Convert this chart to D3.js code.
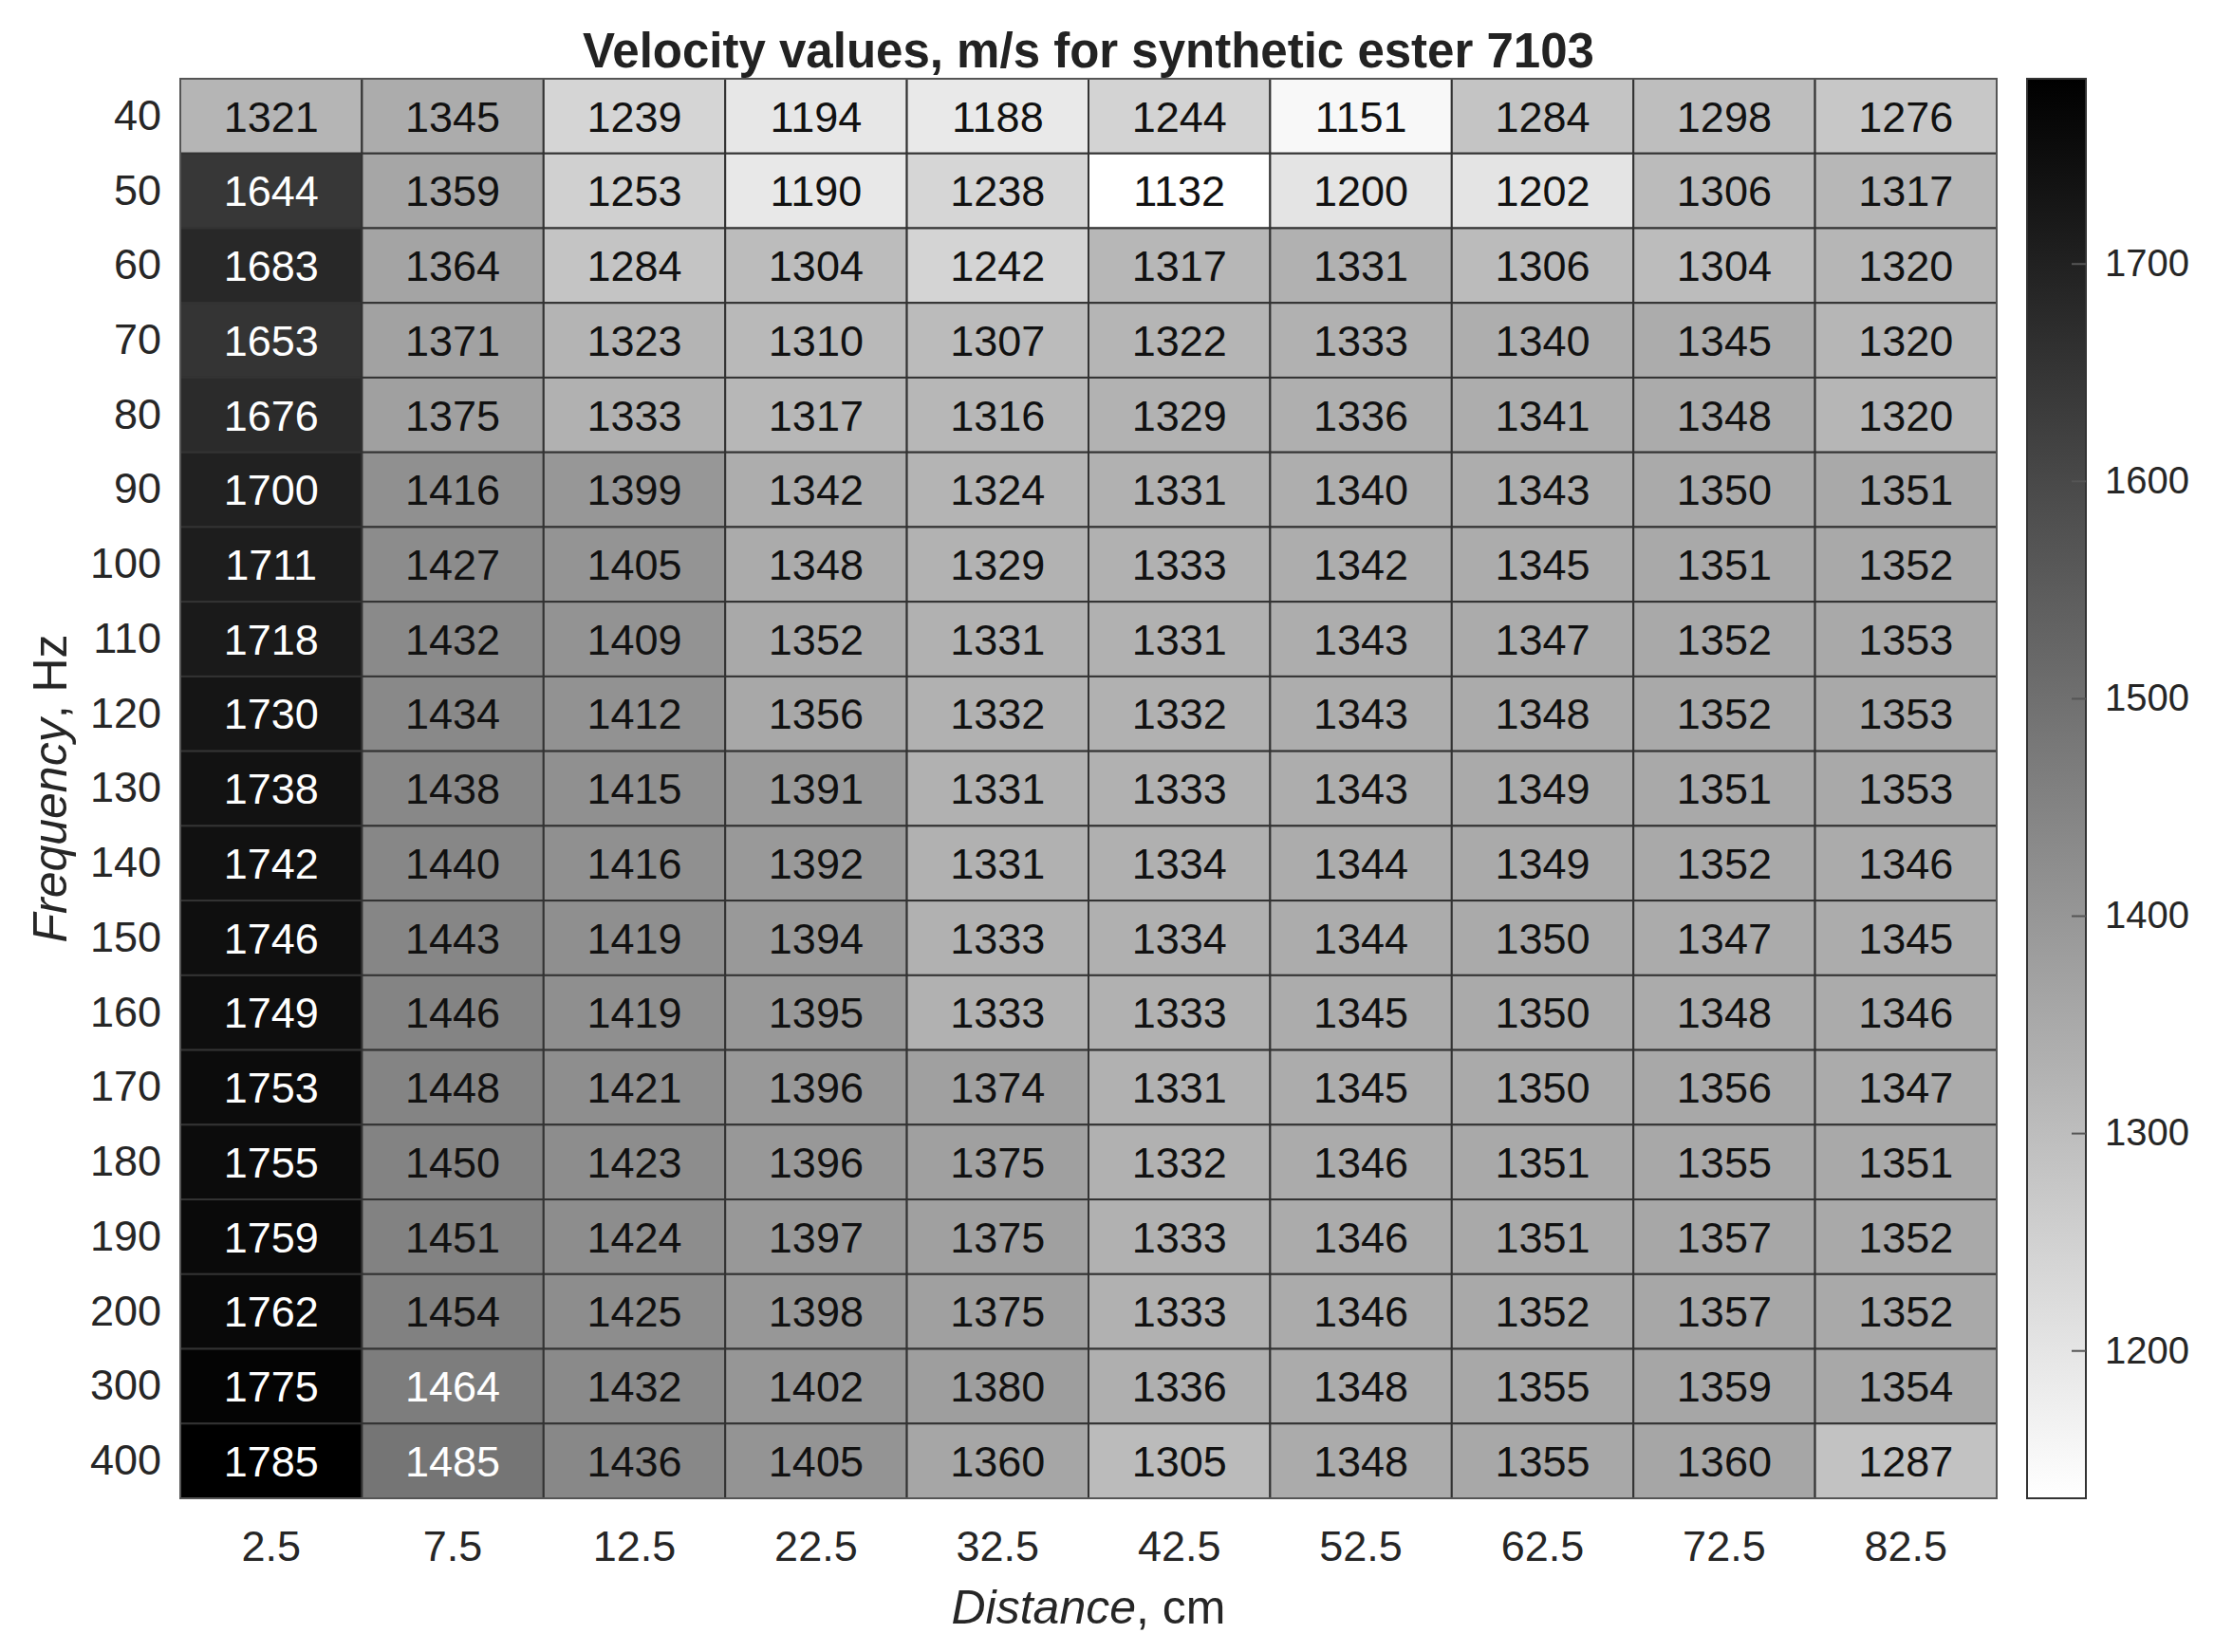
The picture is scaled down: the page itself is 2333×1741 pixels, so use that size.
<!DOCTYPE html>
<html>
<head>
<meta charset="utf-8">
<script src="https://cdn.jsdelivr.net/npm/d3@7"></script>
<style>
  body { margin: 0; background: #fff; }
  text { font-family: "Liberation Sans", Arial, sans-serif; }
</style>
</head>
<body>
<div id="chart"></div>
<script>
// heatmap data
var distances = ["2.5", "7.5", "12.5", "22.5", "32.5", "42.5", "52.5", "62.5", "72.5", "82.5"];
var frequencies = ["40", "50", "60", "70", "80", "90", "100", "110", "120", "130",
                   "140", "150", "160", "170", "180", "190", "200", "300", "400"];
// one row per frequency, one value per distance
var velocity = [
  [1321, 1345, 1239, 1194, 1188, 1244, 1151, 1284, 1298, 1276],
  [1644, 1359, 1253, 1190, 1238, 1132, 1200, 1202, 1306, 1317],
  [1683, 1364, 1284, 1304, 1242, 1317, 1331, 1306, 1304, 1320],
  [1653, 1371, 1323, 1310, 1307, 1322, 1333, 1340, 1345, 1320],
  [1676, 1375, 1333, 1317, 1316, 1329, 1336, 1341, 1348, 1320],
  [1700, 1416, 1399, 1342, 1324, 1331, 1340, 1343, 1350, 1351],
  [1711, 1427, 1405, 1348, 1329, 1333, 1342, 1345, 1351, 1352],
  [1718, 1432, 1409, 1352, 1331, 1331, 1343, 1347, 1352, 1353],
  [1730, 1434, 1412, 1356, 1332, 1332, 1343, 1348, 1352, 1353],
  [1738, 1438, 1415, 1391, 1331, 1333, 1343, 1349, 1351, 1353],
  [1742, 1440, 1416, 1392, 1331, 1334, 1344, 1349, 1352, 1346],
  [1746, 1443, 1419, 1394, 1333, 1334, 1344, 1350, 1347, 1345],
  [1749, 1446, 1419, 1395, 1333, 1333, 1345, 1350, 1348, 1346],
  [1753, 1448, 1421, 1396, 1374, 1331, 1345, 1350, 1356, 1347],
  [1755, 1450, 1423, 1396, 1375, 1332, 1346, 1351, 1355, 1351],
  [1759, 1451, 1424, 1397, 1375, 1333, 1346, 1351, 1357, 1352],
  [1762, 1454, 1425, 1398, 1375, 1333, 1346, 1352, 1357, 1352],
  [1775, 1464, 1432, 1402, 1380, 1336, 1348, 1355, 1359, 1354],
  [1785, 1485, 1436, 1405, 1360, 1305, 1348, 1355, 1360, 1287]
];
var colorbarTicks = [1200, 1300, 1400, 1500, 1600, 1700];

var svgWidth = 2333, svgHeight = 1741;
var margin = { top: 83, left: 190 };
var chartWidth = 1914, chartHeight = 1496;

var svg = d3.select("#chart").append("svg")
  .attr("width", svgWidth)
  .attr("height", svgHeight);

var chartGroup = svg.append("g")
  .attr("transform", `translate(${margin.left}, ${margin.top})`);

// flatten to cells
var cells = [];
velocity.forEach(function (row, i) {
  row.forEach(function (v, j) {
    cells.push({ freq: frequencies[i], dist: distances[j], value: v });
  });
});

var vMin = d3.min(cells, d => d.value);
var vMax = d3.max(cells, d => d.value);

var xScale = d3.scaleBand().domain(distances).range([0, chartWidth]);
var yScale = d3.scaleBand().domain(frequencies).range([0, chartHeight]);

// flipped gray colormap: white at min, black at max
var grayScale = d3.scaleLinear().domain([vMin, vMax]).range([1, 0]);
function cellColor(v) {
  var g = Math.round(grayScale(v) * 255);
  return d3.rgb(g, g, g);
}

chartGroup.selectAll("rect.cell")
  .data(cells)
  .enter()
  .append("rect")
  .attr("class", "cell")
  .attr("x", d => xScale(d.dist))
  .attr("y", d => yScale(d.freq))
  .attr("width", xScale.bandwidth())
  .attr("height", yScale.bandwidth())
  .attr("fill", d => cellColor(d.value))
  .attr("stroke", "#333")
  .attr("stroke-width", 2);

chartGroup.selectAll("text.cellLabel")
  .data(cells)
  .enter()
  .append("text")
  .attr("class", "cellLabel")
  .attr("x", d => xScale(d.dist) + xScale.bandwidth() / 2)
  .attr("y", d => yScale(d.freq) + yScale.bandwidth() / 2)
  .attr("dy", "0.36em")
  .attr("text-anchor", "middle")
  .attr("font-size", "45px")
  .attr("fill", d => grayScale(d.value) < 0.5 ? "#fff" : "#111")
  .text(d => d.value);

// outer frame
chartGroup.append("rect")
  .attr("width", chartWidth)
  .attr("height", chartHeight)
  .attr("fill", "none")
  .attr("stroke", "#555")
  .attr("stroke-width", 2);

// axes (no tick marks, like matlab heatmap)
var leftAxis = d3.axisLeft(yScale).tickSize(0).tickPadding(20);
var bottomAxis = d3.axisBottom(xScale).tickSize(0).tickPadding(34);

var yAxis = chartGroup.append("g").call(leftAxis);
yAxis.select(".domain").remove();
yAxis.selectAll("text")
  .attr("font-size", "45px")
  .attr("font-family", "Liberation Sans, Arial, sans-serif")
  .attr("fill", "#262626");

var xAxis = chartGroup.append("g")
  .attr("transform", `translate(0, ${chartHeight})`)
  .call(bottomAxis);
xAxis.select(".domain").remove();
xAxis.selectAll("text")
  .attr("font-size", "45px")
  .attr("font-family", "Liberation Sans, Arial, sans-serif")
  .attr("fill", "#262626");

// title
svg.append("text")
  .attr("x", margin.left + chartWidth / 2)
  .attr("y", 71)
  .attr("text-anchor", "middle")
  .attr("font-size", "51px")
  .attr("font-weight", "bold")
  .attr("fill", "#222")
  .text("Velocity values, m/s for synthetic ester 7103");

// x label
var xLabel = svg.append("text")
  .attr("x", margin.left + chartWidth / 2)
  .attr("y", 1711)
  .attr("text-anchor", "middle")
  .attr("font-size", "50px")
  .attr("fill", "#262626");
xLabel.append("tspan").attr("font-style", "italic").text("Distance");
xLabel.append("tspan").text(", cm");

// y label
var yLabel = svg.append("text")
  .attr("transform", `translate(70, ${margin.top + chartHeight / 2}) rotate(-90)`)
  .attr("text-anchor", "middle")
  .attr("font-size", "50px")
  .attr("fill", "#262626");
yLabel.append("tspan").attr("font-style", "italic").text("Frequency");
yLabel.append("tspan").text(", Hz");

// colorbar
var cbX = 2136, cbWidth = 62;
var cbScale = d3.scaleLinear().domain([vMin, vMax]).range([margin.top + chartHeight, margin.top]);

var defs = svg.append("defs");
var grad = defs.append("linearGradient")
  .attr("id", "cbGrad")
  .attr("x1", 0).attr("y1", 1).attr("x2", 0).attr("y2", 0);
d3.range(0, 1.0001, 0.1).forEach(function (t) {
  var v = vMin + t * (vMax - vMin);
  grad.append("stop")
    .attr("offset", t)
    .attr("stop-color", cellColor(v));
});

svg.append("rect")
  .attr("x", cbX)
  .attr("y", margin.top)
  .attr("width", cbWidth)
  .attr("height", chartHeight)
  .attr("fill", "url(#cbGrad)")
  .attr("stroke", "#333")
  .attr("stroke-width", 2);

var cbAxis = d3.axisRight(cbScale)
  .tickValues(colorbarTicks)
  .tickFormat(d3.format("d"))
  .tickSize(0)
  .tickPadding(20);

var cbAxisG = svg.append("g")
  .attr("transform", `translate(${cbX + cbWidth}, 0)`)
  .call(cbAxis);
cbAxisG.select(".domain").remove();
cbAxisG.selectAll("text")
  .attr("font-size", "40px")
  .attr("font-family", "Liberation Sans, Arial, sans-serif")
  .attr("fill", "#262626");

// little inner ticks on the colorbar
cbAxisG.selectAll(".tick").append("line")
  .attr("x1", -15)
  .attr("x2", 0)
  .attr("stroke", "#555")
  .attr("stroke-width", 2);
</script>
</body>
</html>
